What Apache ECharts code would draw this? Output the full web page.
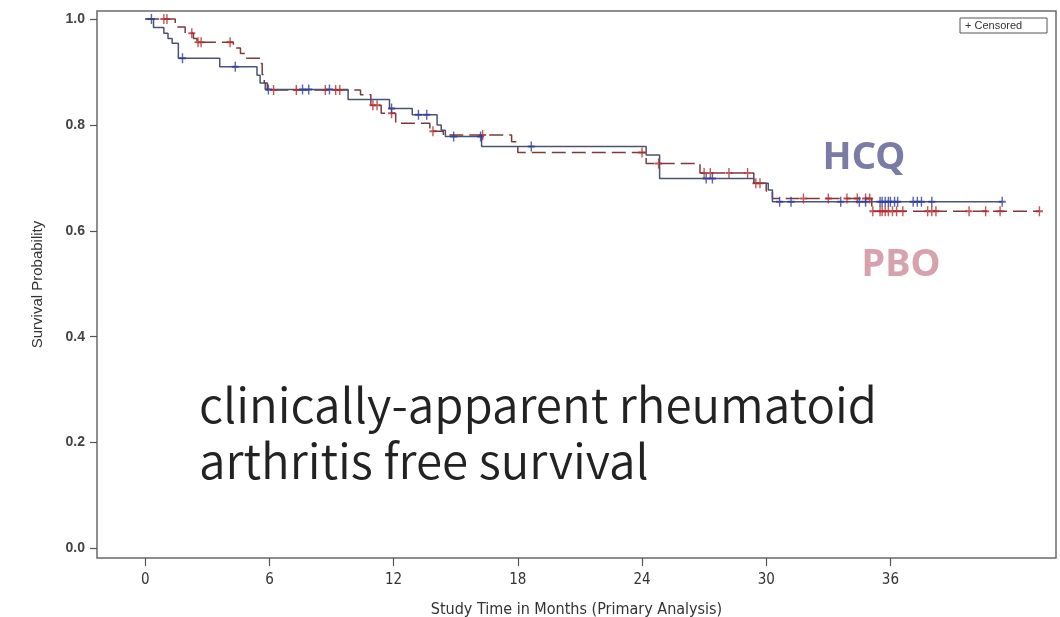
<!DOCTYPE html>
<html>
<head>
<meta charset="utf-8">
<script src="https://cdn.jsdelivr.net/npm/echarts@6/dist/echarts.min.js"></script>
<style>
html,body{margin:0;padding:0;background:#fff;}
#chart{width:1060px;height:617px;}
</style>
</head>
<body>
<div id="chart"></div>
<script>
// Kaplan-Meier step curves: event times (months) and survival after each step
const hcqTimes = [0, 0.4, 0.9, 1.1, 1.3, 1.6, 3.6, 5.4, 5.55, 5.8, 9.8, 11.8, 12.9, 14.1, 14.3, 14.5, 16.25, 24.2, 24.85, 29.4, 30.1, 30.3, 41.4];
const hcqSurv  = [1.0, 0.984, 0.973, 0.963, 0.954, 0.926, 0.910, 0.894, 0.879, 0.867, 0.848, 0.831, 0.819, 0.800, 0.790, 0.778, 0.759, 0.743, 0.699, 0.690, 0.677, 0.655, 0.655];
const pboTimes = [0, 1.45, 1.93, 2.33, 2.5, 4.26, 4.6, 4.9, 5.55, 5.65, 5.75, 5.9, 10.4, 10.9, 11.4, 12.1, 13.75, 14.4, 17.7, 18.0, 24.2, 26.8, 29.4, 30.0, 30.3, 35.1, 43.2];
const pboSurv  = [1.0, 0.985, 0.973, 0.963, 0.956, 0.945, 0.935, 0.926, 0.916, 0.895, 0.879, 0.866, 0.857, 0.837, 0.822, 0.803, 0.788, 0.781, 0.768, 0.748, 0.727, 0.709, 0.690, 0.675, 0.661, 0.637, 0.637];
// censored observation times (months)
const hcqCensor = [0.3, 1.8, 4.35, 5.95, 7.6, 7.9, 8.9, 11.9, 13.2, 13.6, 14.9, 16.2, 18.65, 27.1, 27.4, 30.65, 31.2, 33.6, 34.5, 34.8, 35.5, 35.6, 35.75, 35.9, 36.0, 36.2, 36.35, 37.1, 37.3, 37.5, 38.0, 41.4];
const pboCensor = [0.9, 1.05, 2.25, 2.55, 2.7, 4.1, 6.2, 7.3, 8.7, 9.2, 9.4, 11.0, 11.2, 11.9, 13.9, 16.3, 24.0, 24.8, 27.0, 27.3, 28.2, 29.1, 29.5, 29.7, 31.8, 33.0, 33.9, 34.4, 34.8, 35.0, 35.15, 35.5, 35.6, 35.75, 35.9, 36.1, 36.3, 36.6, 37.8, 38.0, 38.2, 39.8, 40.6, 41.3, 43.2];
const xTicks = [0, 6, 12, 18, 24, 30, 36];
const yTicks = [0, 0.2, 0.4, 0.6, 0.8, 1.0];
const groupNames = ['HCQ', 'PBO'];
const legendText = '+ Censored';
const noteLines = ['clinically-apparent rheumatoid', 'arthritis free survival'];

function pairs(ts, ss){ return ts.map((t,i)=>[t, ss[i]]); }
function survAt(ts, ss, t){ let v = ss[0]; for (let i=0;i<ts.length;i++){ if (ts[i] <= t) v = ss[i]; } return v; }
function censorPts(cs, ts, ss){ return cs.map(t => [t, survAt(ts, ss, t)]); }

const plusPath = 'path://M4,0H6V4H10V6H6V10H4V6H0V4H4Z';
const hcqLine = '#4b5275', hcqMark = '#2d3c9c';
const pboLine = '#7a3b3b', pboMark = '#b42c2c';
const narrow = '"DejaVu Sans Condensed", "Liberation Sans Narrow", "Liberation Sans", Arial';

const chart = echarts.init(document.getElementById('chart'), null, {renderer:'canvas'});
chart.setOption({
  animation: false,
  backgroundColor: '#fff',
  grid: {left: 97, right: 4, top: 11, bottom: 59, show: true, outerBoundsMode: 'none', containLabel: false,
         borderColor: '#6a6a6a', borderWidth: 1.5, backgroundColor: 'transparent'},
  xAxis: {
    type: 'value', min: -2.33, max: 44,
    name: 'Study Time in Months (Primary Analysis)', nameLocation: 'middle', nameGap: 44,
    nameTextStyle: {fontFamily: narrow, fontSize: 16, color: '#333'},
    axisLine: {show: false, onZero: false},
    axisTick: {show: true, length: 8, lineStyle: {color: '#555', width: 1.2}, customValues: xTicks},
    axisLabel: {customValues: xTicks, margin: 15, fontFamily: narrow, fontSize: 15, color: '#333'},
    splitLine: {show: false}
  },
  yAxis: {
    type: 'value', min: -0.0179, max: 1.0151,
    name: 'Survival Probability', nameLocation: 'middle', nameGap: 52,
    nameTextStyle: {fontFamily: 'Liberation Sans, Arial', fontSize: 15, color: '#333'},
    axisLine: {show: false, onZero: false},
    axisTick: {show: true, length: 7, lineStyle: {color: '#555', width: 1.2}, customValues: yTicks},
    axisLabel: {customValues: yTicks, margin: 12, fontFamily: 'Liberation Sans, Arial', fontSize: 14, fontWeight: 'bold', color: '#444', formatter: v => v.toFixed(1)},
    splitLine: {show: false}
  },
  series: [
    {name: groupNames[1], type: 'line', step: 'end', showSymbol: false, data: pairs(pboTimes, pboSurv),
     lineStyle: {color: pboLine, width: 1.5, type: [14, 6]}, z: 2},
    {name: groupNames[0], type: 'line', step: 'end', showSymbol: false, data: pairs(hcqTimes, hcqSurv),
     lineStyle: {color: hcqLine, width: 1.5}, z: 3},
    {type: 'scatter', data: censorPts(pboCensor, pboTimes, pboSurv), symbol: plusPath, symbolSize: [7, 10],
     itemStyle: {color: pboMark}, z: 4},
    {type: 'scatter', data: censorPts(hcqCensor, hcqTimes, hcqSurv), symbol: plusPath, symbolSize: [7, 10],
     itemStyle: {color: hcqMark}, z: 5}
  ],
  graphic: [
    {type: 'rect', shape: {x: 960, y: 18, width: 87, height: 15}, style: {fill: '#fff', stroke: '#555', lineWidth: 1}},
    {type: 'text', x: 965, y: 25.5, style: {text: legendText, font: '11px Liberation Sans, Arial', fill: '#333', verticalAlign: 'middle'}},
    {type: 'text', x: 864, y: 158, style: {text: groupNames[0], font: 'bold 38px "Noto Sans"', fill: '#7a7ca6', align: 'center', verticalAlign: 'middle'}},
    {type: 'text', x: 901, y: 265, style: {text: groupNames[1], font: 'bold 38px "Noto Sans"', fill: '#d7a2ad', align: 'center', verticalAlign: 'middle'}},
    {type: 'text', x: 199, y: 405, style: {text: noteLines[0], font: '350 47.5px "Noto Sans CJK JP"', fill: '#222', verticalAlign: 'middle'}},
    {type: 'text', x: 199, y: 461, style: {text: noteLines[1], font: '350 47.5px "Noto Sans CJK JP"', fill: '#222', verticalAlign: 'middle'}}
  ]
});
</script>
</body>
</html>
